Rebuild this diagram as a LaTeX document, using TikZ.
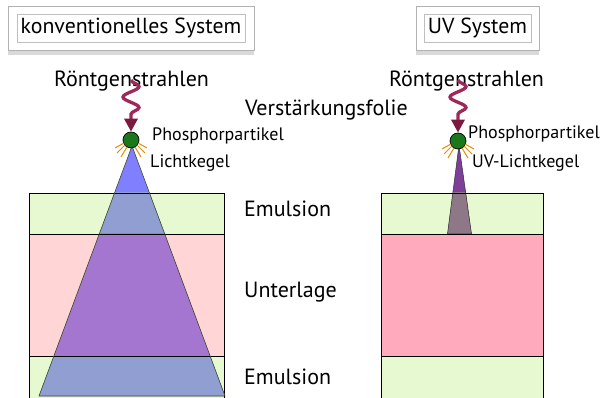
\documentclass[tikz,border=0pt]{standalone}
\usepackage{fontspec}
\setmainfont{PT Sans}
\usetikzlibrary{decorations.pathmorphing,arrows.meta,shadows,calc}
\definecolor{emul}{RGB}{230,249,208}
\definecolor{baseL}{RGB}{255,213,213}
\definecolor{baseR}{RGB}{255,170,189}
\definecolor{coneTop}{RGB}{128,128,255}
\definecolor{coneEm}{RGB}{145,158,210}
\definecolor{coneBa}{RGB}{165,118,208}
\definecolor{uvTop}{RGB}{126,63,152}
\definecolor{uvEm}{RGB}{142,120,136}
\definecolor{xray}{RGB}{158,40,88}
\definecolor{xrayDark}{RGB}{122,26,64}
\definecolor{ray}{RGB}{225,140,10}
\definecolor{phos}{RGB}{26,120,26}
\definecolor{coneEdge}{RGB}{60,75,45}
\begin{document}
\begin{tikzpicture}[x=1pt,y=-1pt,
  panel/.style={draw=black!30, fill=white, minimum height=44pt, inner sep=0pt,
    drop shadow={shadow xshift=0pt, shadow yshift=-5pt, opacity=0.3}},
  titlebox/.style={draw=black!25, line width=0.4pt, fill=white, minimum height=28pt, inner sep=0pt, font=\fontsize{21.8}{24}\selectfont},
  big/.style={inner sep=0pt, font=\fontsize{22}{24}\selectfont},
  small/.style={inner sep=0pt, font=\fontsize{18}{20}\selectfont},
  layer/.style={draw=black, line width=0.7pt},
  xarrow/.style={draw=xray, line width=3.3pt, decorate,
    decoration={snake, amplitude=8pt, segment length=21pt, post length=12pt},
    -{Triangle[length=13pt,width=13pt,color=xrayDark]}},
  particle/.style={circle, draw=black, line width=0.7pt, fill=phos, minimum size=16pt, inner sep=0pt},
  lightray/.style={draw=ray, line width=1pt},
]
\useasboundingbox (0,0) rectangle (605,398);

% ---------- title boxes
\node[panel, minimum width=246pt] (t1o) at (131,28) {};
\node[titlebox, minimum width=228pt] (t1) at (131,28) {konventionelles System};
\node[panel, minimum width=123pt] (t2o) at (477.5,28) {};
\node[titlebox, minimum width=107pt] (t2) at (477.5,28) {UV System};

% ---------- left layers
\fill[emul] (29,193) rectangle (224,234);
\fill[baseL] (29,234) rectangle (224,356);
\fill[emul] (29,356) rectangle (224,400);
% cone
\coordinate (A1) at (132,146);
\coordinate (B1) at (39,396);
\coordinate (C1) at (225,396);
\fill[coneTop] (A1) -- (B1) -- (C1) -- cycle;
\begin{scope}
  \clip (0,193) rectangle (605,234);
  \fill[coneEm] (A1) -- (B1) -- (C1) -- cycle;
\end{scope}
\begin{scope}
  \clip (0,234) rectangle (605,356);
  \fill[coneBa] (A1) -- (B1) -- (C1) -- cycle;
\end{scope}
\begin{scope}
  \clip (0,356) rectangle (605,400);
  \fill[coneEm] (A1) -- (B1) -- (C1) -- cycle;
\end{scope}
\draw[layer] (29,193) rectangle (224,234);
\draw[layer] (29,234) rectangle (224,356);
\draw[layer] (29,356) rectangle (224,400);
\draw[coneEdge, line width=0.6pt] (A1) -- (B1) -- (C1) -- cycle;

% ---------- right layers
\fill[emul] (381,193) rectangle (543,234);
\fill[baseR] (381,234) rectangle (543,356);
\fill[emul] (381,356) rectangle (543,400);
\coordinate (A2) at (459,145);
\coordinate (B2) at (447.5,234);
\coordinate (C2) at (471.5,234);
\fill[uvTop] (A2) -- (B2) -- (C2) -- cycle;
\begin{scope}
  \clip (0,193) rectangle (605,234);
  \fill[uvEm] (A2) -- (B2) -- (C2) -- cycle;
\end{scope}
\draw[black!80, line width=0.5pt] (A2) -- (B2) -- (C2) -- cycle;
\draw[layer] (381,193) rectangle (543,234);
\draw[layer] (381,234) rectangle (543,356);
\draw[layer] (381,356) rectangle (543,400);

% ---------- particles
\node[particle] (p1) at (131,140) {};
\node[particle] (p2) at (458,141) {};

% light rays
\foreach \P in {p1,p2}{
  \draw[lightray] ($(\P)+(-7,3)$) -- ($(\P)+(-16,8)$);
  \draw[lightray] ($(\P)+(-6,5)$) -- ($(\P)+(-14,13)$);
  \draw[lightray] ($(\P)+(-4,7)$) -- ($(\P)+(-10,17)$);
  \draw[lightray] ($(\P)+(7,3)$) -- ($(\P)+(16,8)$);
  \draw[lightray] ($(\P)+(6,5)$) -- ($(\P)+(14,13)$);
  \draw[lightray] ($(\P)+(4,7)$) -- ($(\P)+(10,17)$);
}

% ---------- texts
\node[big, anchor=base] (r1) at (131.5,87) {Röntgenstrahlen};
\node[big, anchor=base] (r2) at (466.5,87) {Röntgenstrahlen};
\node[big, anchor=base] (vf) at (326.5,116) {Verstärkungsfolie};
\node[small, anchor=base west] (ph1) at (152,141) {Phosphorpartikel};
\node[small, anchor=base west] (lk1) at (150,168) {Lichtkegel};
\node[small, anchor=base west] (ph2) at (468,139) {Phosphorpartikel};
\node[small, anchor=base west] (lk2) at (472,168) {UV-Lichtkegel};
\node[big, anchor=base west] (em1) at (244,217) {Emulsion};
\node[big, anchor=base west] (ul) at (244,297) {Unterlage};
\node[big, anchor=base west] (em2) at (244,384) {Emulsion};

% ---------- x-ray arrows
\coordinate (x1) at (131,80);
\coordinate (x2) at (458,80);
\path[xarrow] (x1) -- (p1.north);
\path[xarrow] (x2) -- (p2.north);
\end{tikzpicture}
\end{document}
